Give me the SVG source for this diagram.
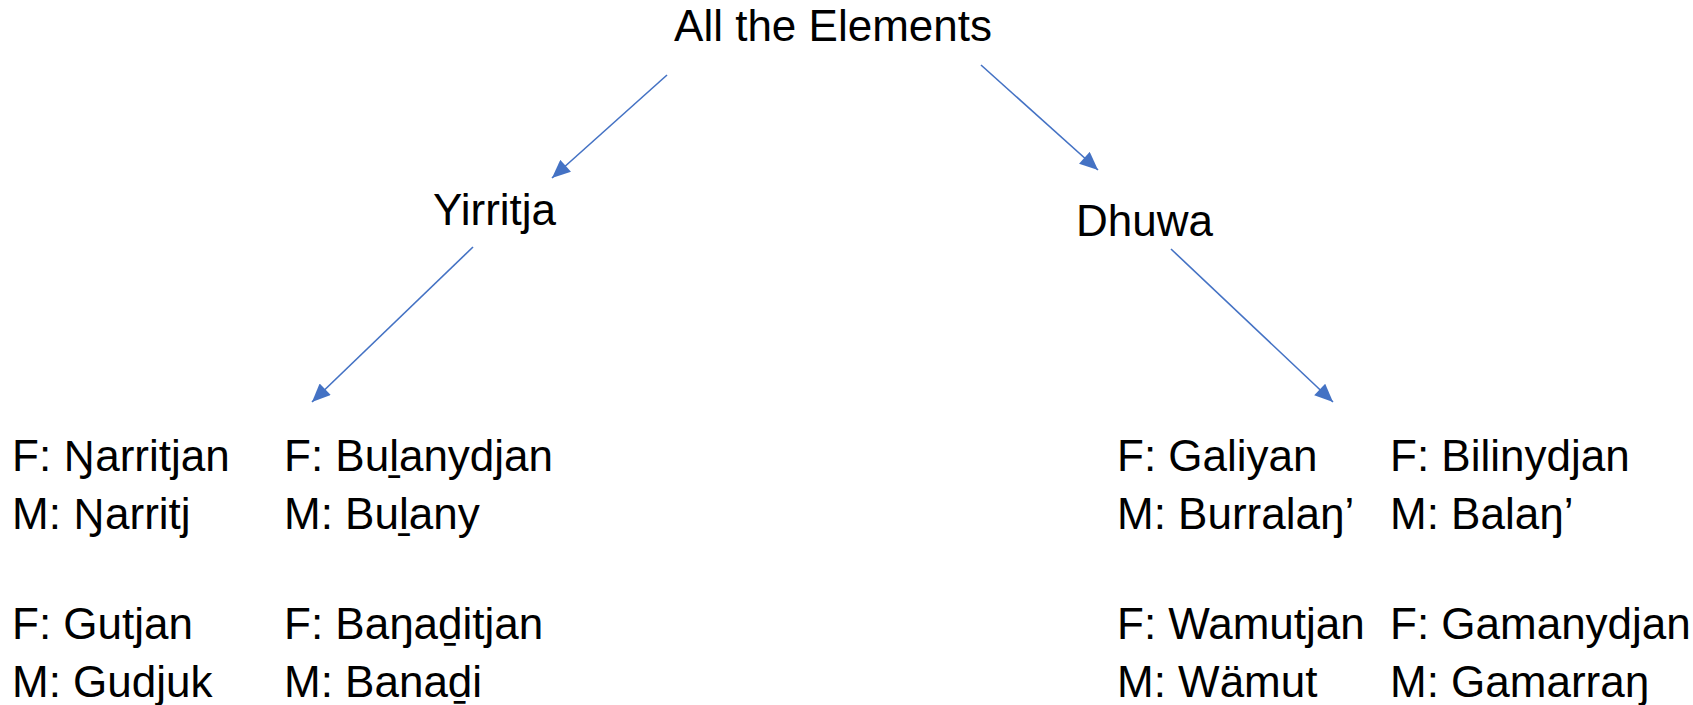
<svg xmlns="http://www.w3.org/2000/svg" width="1693" height="705" viewBox="0 0 1693 705">
<style>
text{font-family:"Liberation Sans","DejaVu Sans",sans-serif;font-size:44px;fill:#000}
.eng{font-family:"Noto Sans","DejaVu Sans",sans-serif;font-size:42px}
.c{stroke:#4472C4;stroke-width:1.6;fill:none}
</style>
<defs>
<marker id="ah" markerUnits="userSpaceOnUse" markerWidth="20" markerHeight="16" refX="16" refY="7" orient="auto" viewBox="0 0 16 14">
<path d="M0,0 L16,7 L0,14 Z" fill="#4472C4"/>
</marker>
</defs>
<rect width="1693" height="705" fill="#fff"/>
<g id="connectors">
<line class="c" x1="667" y1="75" x2="552" y2="178" marker-end="url(#ah)"/>
<line class="c" x1="981" y1="65" x2="1098" y2="170" marker-end="url(#ah)"/>
<line class="c" x1="473" y1="247" x2="312" y2="402" marker-end="url(#ah)"/>
<line class="c" x1="1171" y1="249" x2="1333" y2="402" marker-end="url(#ah)"/>
</g>
<g id="root"><text x="833" y="41" text-anchor="middle">All the Elements</text></g>
<g id="yirritja"><text x="433" y="225">Yirritja</text></g>
<g id="dhuwa"><text x="1076" y="236">Dhuwa</text></g>
<g id="yirritja-1"><text x="12" y="471">F: <tspan class="eng">Ŋ</tspan>arritjan</text><text x="12" y="529">M: <tspan class="eng">Ŋ</tspan>arritj</text></g>
<g id="yirritja-2"><text x="284" y="471">F: Buḻanydjan</text><text x="284" y="529">M: Buḻany</text></g>
<g id="yirritja-3"><text x="12" y="639">F: Gutjan</text><text x="12" y="697">M: Gudjuk</text></g>
<g id="yirritja-4"><text x="284" y="639">F: Baŋaḏitjan</text><text x="284" y="697">M: Banaḏi</text></g>
<g id="dhuwa-1"><text x="1117" y="471">F: Galiyan</text><text x="1117" y="529">M: Burralaŋ’</text></g>
<g id="dhuwa-2"><text x="1390" y="471">F: Bilinydjan</text><text x="1390" y="529">M: Balaŋ’</text></g>
<g id="dhuwa-3"><text x="1117" y="639">F: Wamutjan</text><text x="1117" y="697">M: Wämut</text></g>
<g id="dhuwa-4"><text x="1390" y="639">F: Gamanydjan</text><text x="1390" y="697">M: Gamarraŋ</text></g>
</svg>
